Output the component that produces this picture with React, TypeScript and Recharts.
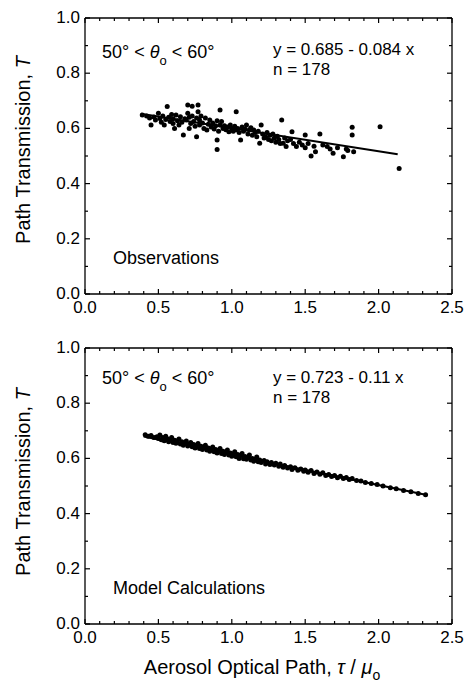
import React from 'react';
import { ScatterChart, Scatter, XAxis, YAxis } from 'recharts';

// tick values
const xTicks = [0, 0.1, 0.2, 0.3, 0.4, 0.5, 0.6, 0.7, 0.8, 0.9, 1.0, 1.1, 1.2, 1.3, 1.4, 1.5, 1.6, 1.7, 1.8, 1.9, 2.0, 2.1, 2.2, 2.3, 2.4, 2.5];
const xLabels = [0, 0.5, 1.0, 1.5, 2.0, 2.5];
const yTicks = [0, 0.1, 0.2, 0.3, 0.4, 0.5, 0.6, 0.7, 0.8, 0.9, 1.0];
const yLabels = [0, 0.2, 0.4, 0.6, 0.8, 1.0];

// observations (tau/mu, T)
const obsPoints: [number, number][] = [
  [0.39, 0.649], [0.42, 0.645], [0.44, 0.638], [0.45, 0.612], [0.47, 0.641], [0.48, 0.63], [0.50, 0.655], [0.51, 0.636],
  [0.52, 0.622], [0.53, 0.645], [0.54, 0.612], [0.55, 0.632], [0.56, 0.679], [0.57, 0.64], [0.58, 0.625], [0.59, 0.65],
  [0.60, 0.618], [0.60, 0.635], [0.61, 0.6], [0.62, 0.649], [0.63, 0.628], [0.64, 0.612], [0.65, 0.642], [0.66, 0.622],
  [0.67, 0.576], [0.68, 0.635], [0.69, 0.63], [0.70, 0.685], [0.70, 0.655], [0.71, 0.60], [0.71, 0.64], [0.72, 0.618],
  [0.73, 0.68], [0.73, 0.645], [0.74, 0.625], [0.75, 0.608], [0.76, 0.57], [0.76, 0.638], [0.77, 0.685], [0.77, 0.66],
  [0.78, 0.612], [0.78, 0.63], [0.79, 0.645], [0.80, 0.62], [0.81, 0.60], [0.82, 0.638], [0.83, 0.594], [0.84, 0.615],
  [0.85, 0.63], [0.86, 0.605], [0.87, 0.62], [0.88, 0.598], [0.89, 0.61], [0.90, 0.558], [0.90, 0.524], [0.90, 0.628],
  [0.91, 0.59], [0.92, 0.667], [0.92, 0.612], [0.93, 0.625], [0.94, 0.6], [0.95, 0.61], [0.96, 0.595], [0.97, 0.605],
  [0.98, 0.588], [0.99, 0.612], [1.00, 0.6], [1.01, 0.59], [1.02, 0.608], [1.03, 0.66], [1.03, 0.595], [1.04, 0.6],
  [1.05, 0.585], [1.06, 0.558], [1.07, 0.605], [1.08, 0.59], [1.09, 0.598], [1.10, 0.612], [1.11, 0.58], [1.12, 0.595],
  [1.13, 0.602], [1.14, 0.575], [1.15, 0.594], [1.16, 0.585], [1.17, 0.57], [1.18, 0.59], [1.19, 0.546], [1.20, 0.612],
  [1.21, 0.58], [1.22, 0.565], [1.23, 0.57], [1.24, 0.585], [1.25, 0.56], [1.26, 0.575], [1.27, 0.555], [1.28, 0.58],
  [1.29, 0.565], [1.30, 0.55], [1.31, 0.572], [1.32, 0.56], [1.33, 0.545], [1.34, 0.63], [1.35, 0.546], [1.36, 0.565],
  [1.37, 0.534], [1.38, 0.555], [1.40, 0.56], [1.41, 0.588], [1.42, 0.545], [1.44, 0.534], [1.46, 0.55], [1.48, 0.54],
  [1.50, 0.576], [1.50, 0.53], [1.52, 0.545], [1.54, 0.50], [1.56, 0.535], [1.57, 0.515], [1.60, 0.58], [1.62, 0.54],
  [1.65, 0.534], [1.67, 0.525], [1.69, 0.51], [1.72, 0.53], [1.76, 0.497], [1.78, 0.525], [1.79, 0.52], [1.82, 0.604],
  [1.82, 0.576], [1.83, 0.515], [2.01, 0.606], [2.14, 0.455],
];
const obsFit: [number, number][] = [[0.38, 0.653], [2.13, 0.506]];

// model calculations
const modelPoints: [number, number][] = [
  [0.41, 0.686], [0.43, 0.68], [0.45, 0.683], [0.47, 0.676], [0.49, 0.678], [0.50, 0.672], [0.51, 0.685], [0.52, 0.668],
  [0.53, 0.676], [0.54, 0.664], [0.55, 0.68], [0.56, 0.671], [0.57, 0.66], [0.58, 0.668], [0.59, 0.676], [0.60, 0.658],
  [0.61, 0.666], [0.62, 0.655], [0.63, 0.664], [0.64, 0.67], [0.65, 0.652], [0.66, 0.66], [0.67, 0.648], [0.68, 0.657],
  [0.69, 0.663], [0.70, 0.645], [0.71, 0.652], [0.72, 0.658], [0.73, 0.642], [0.74, 0.65], [0.75, 0.638], [0.76, 0.647],
  [0.77, 0.654], [0.78, 0.636], [0.79, 0.644], [0.80, 0.632], [0.81, 0.641], [0.82, 0.648], [0.83, 0.63], [0.84, 0.638],
  [0.85, 0.626], [0.86, 0.635], [0.87, 0.641], [0.88, 0.624], [0.89, 0.632], [0.90, 0.62], [0.91, 0.629], [0.92, 0.636],
  [0.93, 0.618], [0.94, 0.626], [0.95, 0.614], [0.96, 0.623], [0.97, 0.63], [0.98, 0.612], [0.99, 0.62], [1.00, 0.608],
  [1.01, 0.617], [1.02, 0.624], [1.03, 0.606], [1.04, 0.614], [1.05, 0.6], [1.06, 0.611], [1.07, 0.618], [1.08, 0.599],
  [1.09, 0.607], [1.10, 0.597], [1.11, 0.604], [1.12, 0.612], [1.13, 0.594], [1.14, 0.6], [1.15, 0.59], [1.16, 0.598],
  [1.17, 0.605], [1.18, 0.588], [1.19, 0.594], [1.20, 0.585], [1.22, 0.592], [1.23, 0.58], [1.24, 0.588], [1.26, 0.578],
  [1.27, 0.585], [1.29, 0.576], [1.30, 0.582], [1.32, 0.572], [1.33, 0.58], [1.35, 0.568], [1.36, 0.574], [1.38, 0.565],
  [1.40, 0.57], [1.41, 0.56], [1.43, 0.566], [1.45, 0.557], [1.47, 0.562], [1.49, 0.553], [1.50, 0.558], [1.52, 0.55],
  [1.54, 0.556], [1.56, 0.545], [1.58, 0.551], [1.60, 0.543], [1.62, 0.548], [1.64, 0.538], [1.66, 0.542], [1.68, 0.534],
  [1.70, 0.538], [1.72, 0.53], [1.74, 0.535], [1.76, 0.527], [1.78, 0.531], [1.80, 0.524], [1.82, 0.527], [1.85, 0.52],
  [1.88, 0.518], [1.91, 0.513], [1.95, 0.509], [1.99, 0.505], [2.03, 0.5], [2.08, 0.494], [2.12, 0.49], [2.17, 0.484],
  [2.22, 0.479], [2.27, 0.473], [2.32, 0.468],
];
const modelFit: [number, number][] = [[0.40, 0.679], [2.32, 0.468]];

const FONT = '"Liberation Sans", Arial, Helvetica, sans-serif';
const toXY = (arr: [number, number][]) => arr.map(([x, y]) => ({ x, y }));

const isMajor = (list: number[], v: number) => list.some(l => Math.abs(l - v) < 1e-6);

const BottomTick = (p: any) => {
  const major = isMajor(xLabels, p.payload.value);
  return (
    <g>
      <line x1={p.x} x2={p.x} y1={p.y} y2={p.y - (major ? 5 : 3)} stroke="#000" strokeWidth={1.2} />
      {major && (
        <text x={p.x} y={p.y + 19} textAnchor="middle" fontSize={17} fontFamily={FONT} fill="#000">
          {p.payload.value.toFixed(1)}
        </text>
      )}
    </g>
  );
};
const TopTick = (p: any) => {
  const major = isMajor(xLabels, p.payload.value);
  return <line x1={p.x} x2={p.x} y1={p.y} y2={p.y + (major ? 5 : 3)} stroke="#000" strokeWidth={1.2} />;
};
const LeftTick = (p: any) => {
  const major = isMajor(yLabels, p.payload.value);
  return (
    <g>
      <line x1={p.x} x2={p.x + (major ? 5 : 3)} y1={p.y} y2={p.y} stroke="#000" strokeWidth={1.2} />
      {major && (
        <text x={p.x - 5} y={p.y + 5} textAnchor="end" fontSize={17} fontFamily={FONT} fill="#000">
          {p.payload.value.toFixed(1)}
        </text>
      )}
    </g>
  );
};
const RightTick = (p: any) => {
  const major = isMajor(yLabels, p.payload.value);
  return <line x1={p.x} x2={p.x - (major ? 5 : 3)} y1={p.y} y2={p.y} stroke="#000" strokeWidth={1.2} />;
};

const Dot = (p: any) => <circle cx={p.cx} cy={p.cy} r={2.5} fill="#000" />;
const NoDot = () => <g />;

const Panel = ({ points, fit }: { points: [number, number][]; fit: [number, number][] }) => (
  <ScatterChart width={466} height={330} margin={{ top: 17, right: 13, bottom: 6, left: 25 }}>
    <XAxis xAxisId="b" type="number" dataKey="x" domain={[0, 2.5]} ticks={xTicks} interval={0}
      height={30} tickSize={0} tickMargin={0} tickLine={false} tick={BottomTick} stroke="#000" strokeWidth={1.3} allowDataOverflow />
    <XAxis xAxisId="t" orientation="top" type="number" dataKey="x" domain={[0, 2.5]} ticks={xTicks} interval={0}
      height={1} tickSize={0} tickMargin={0} tickLine={false} tick={TopTick} stroke="#000" strokeWidth={1.3} allowDataOverflow />
    <YAxis yAxisId="l" type="number" dataKey="y" domain={[0, 1]} ticks={yTicks} interval={0}
      width={60} tickSize={0} tickMargin={0} tickLine={false} tick={LeftTick} stroke="#000" strokeWidth={1.3} allowDataOverflow />
    <YAxis yAxisId="r" orientation="right" type="number" dataKey="y" domain={[0, 1]} ticks={yTicks} interval={0}
      width={1} tickSize={0} tickMargin={0} tickLine={false} tick={RightTick} stroke="#000" strokeWidth={1.3} allowDataOverflow />
    <Scatter xAxisId="b" yAxisId="l" data={toXY(points)} shape={Dot} isAnimationActive={false} />
    <Scatter xAxisId="t" yAxisId="r" data={toXY(fit)} shape={NoDot} line={{ stroke: '#000', strokeWidth: 2 }} isAnimationActive={false} />
  </ScatterChart>
);

const txt = { fontFamily: FONT, fill: '#000' } as const;

export default function App() {
  return (
    <div style={{ position: 'absolute', left: 0, top: 0, width: 466, height: 691, background: '#fff' }}>
      <div style={{ position: 'absolute', left: 0, top: 0 }}>
        <Panel points={obsPoints} fit={obsFit} />
      </div>
      <div style={{ position: 'absolute', left: 0, top: 330 }}>
        <Panel points={modelPoints} fit={modelFit} />
      </div>
      <svg width={466} height={691} style={{ position: 'absolute', left: 0, top: 0, pointerEvents: 'none' }}>
        {/* top panel */}
        <text {...txt} x={102} y={58} fontSize={18}>
          50° &lt; <tspan fontStyle="italic">θ</tspan><tspan fontSize={13} dy={7}>o</tspan><tspan dy={-7}> &lt; 60°</tspan>
        </text>
        <text {...txt} x={273} y={55} fontSize={17}>y = 0.685 - 0.084 x</text>
        <text {...txt} x={273} y={75} fontSize={17}>n = 178</text>
        <text {...txt} x={113} y={264} fontSize={18}>Observations</text>
        <text {...txt} fontSize={20} textAnchor="middle" transform="translate(30,150) rotate(-90)">
          Path Transmission, <tspan fontStyle="italic">T</tspan>
        </text>
        {/* bottom panel */}
        <text {...txt} x={102} y={384} fontSize={18}>
          50° &lt; <tspan fontStyle="italic">θ</tspan><tspan fontSize={13} dy={7}>o</tspan><tspan dy={-7}> &lt; 60°</tspan>
        </text>
        <text {...txt} x={273} y={383} fontSize={17}>y = 0.723 - 0.11 x</text>
        <text {...txt} x={273} y={403} fontSize={17}>n = 178</text>
        <text {...txt} x={113} y={594} fontSize={18}>Model Calculations</text>
        <text {...txt} fontSize={20} textAnchor="middle" transform="translate(30,482) rotate(-90)">
          Path Transmission, <tspan fontStyle="italic">T</tspan>
        </text>
        <text {...txt} x={262} y={674} fontSize={20} textAnchor="middle">
          Aerosol Optical Path, <tspan fontStyle="italic">τ</tspan> / <tspan fontStyle="italic">μ</tspan>
          <tspan fontSize={14} dy={6}>o</tspan>
        </text>
      </svg>
    </div>
  );
}
